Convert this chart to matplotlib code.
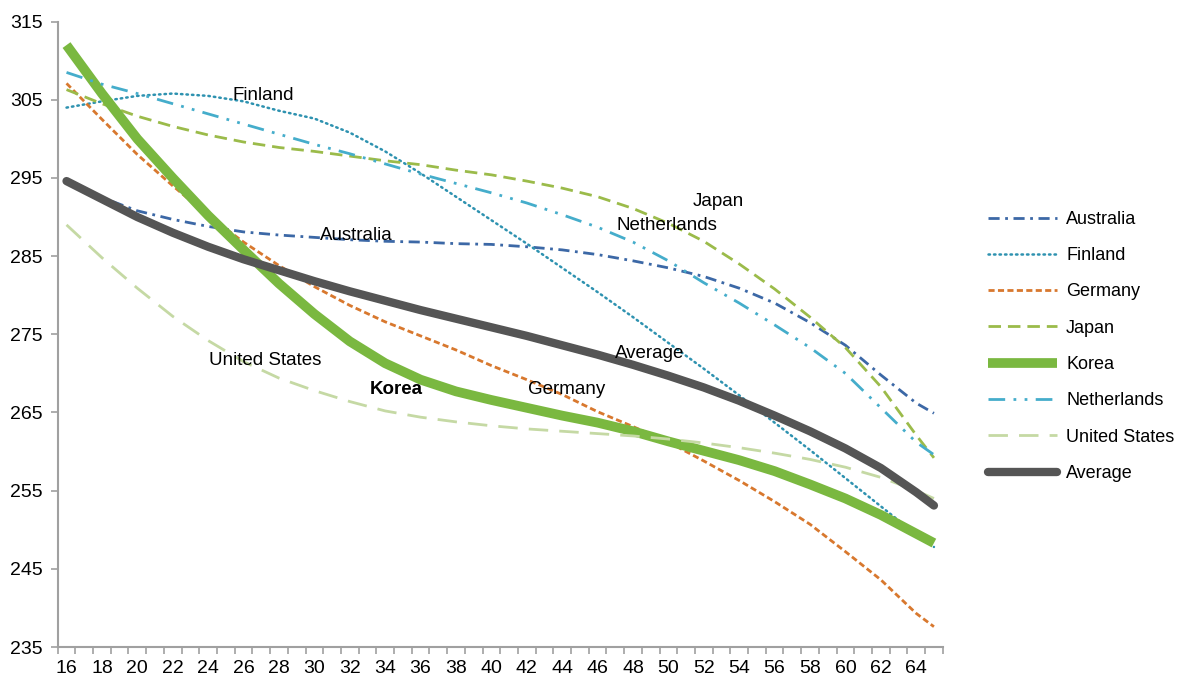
import matplotlib
matplotlib.use("Agg")
import matplotlib.pyplot as plt
from matplotlib.ticker import FixedLocator

plt.rcParams['font.family'] = ['Liberation Sans', 'DejaVu Sans']

ages = [16, 18, 20, 22, 24, 26, 28, 30, 32, 34, 36, 38, 40, 42, 44, 46, 48, 50,
        52, 54, 56, 58, 60, 62, 64, 65]

australia = [294.4, 292.5, 290.8, 289.7, 288.8, 288.1, 287.7, 287.4, 287.1, 286.9,
             286.8, 286.6, 286.5, 286.2, 285.8, 285.2, 284.4, 283.5, 282.4, 280.9,
             279.0, 276.5, 273.6, 269.8, 266.2, 264.9]
finland = [304.0, 304.8, 305.5, 305.8, 305.5, 304.8, 303.6, 302.6, 300.8, 298.4,
           295.6, 292.6, 289.6, 286.6, 283.5, 280.4, 277.2, 273.9, 270.6, 267.2,
           263.7, 260.2, 256.6, 253.0, 249.4, 247.8]
germany = [307.1, 302.5, 298.0, 294.0, 290.2, 286.8, 283.8, 281.1, 278.7, 276.6,
           274.8, 273.0, 271.0, 269.2, 267.3, 265.1, 263.2, 261.2, 258.8, 256.3,
           253.6, 250.7, 247.2, 243.6, 239.3, 237.6]
japan = [306.3, 304.5, 302.9, 301.6, 300.5, 299.6, 298.9, 298.4, 297.8, 297.2,
         296.7, 296.0, 295.4, 294.6, 293.7, 292.6, 291.1, 289.2, 286.9, 284.0,
         280.8, 277.2, 273.3, 268.3, 262.1, 259.2]
korea = [312.0, 305.8, 300.0, 295.0, 290.2, 285.8, 281.5, 277.6, 274.1, 271.3,
         269.2, 267.7, 266.6, 265.6, 264.6, 263.7, 262.6, 261.3, 260.1, 258.9,
         257.5, 255.8, 254.0, 251.9, 249.5, 248.3]
netherlands = [308.5, 307.0, 305.8, 304.5, 303.2, 301.9, 300.6, 299.3, 298.1, 296.8,
               295.5, 294.3, 293.1, 291.8, 290.3, 288.7, 286.8, 284.4, 281.6, 279.0,
               276.2, 273.3, 270.0, 265.6, 261.2, 259.6]
united_states = [289.0, 284.8, 280.9, 277.3, 274.2, 271.5, 269.4, 267.8, 266.4, 265.2,
                 264.4, 263.8, 263.3, 262.9, 262.6, 262.3, 262.0, 261.6, 261.1, 260.5,
                 259.8, 259.0, 258.0, 256.7, 255.0, 254.0]
average = [294.6, 292.3, 290.0, 288.0, 286.2, 284.6, 283.2, 281.8, 280.5, 279.3,
           278.1, 277.0, 275.9, 274.8, 273.6, 272.4, 271.1, 269.7, 268.2, 266.5,
           264.6, 262.6, 260.4, 257.9, 254.8, 253.1]

fig = plt.figure(figsize=(11.77, 6.82), dpi=100)
ax = fig.add_axes([0.049, 0.0513, 0.752, 0.917])

ax.plot(ages, australia, color='#3C68A6', lw=2, ls=(0, (4, 2, 1, 2)), label='Australia')
ax.plot(ages, finland, color='#2E92B0', lw=1.8, ls=(0, (0.6, 1.6)),
        dash_capstyle='round', label='Finland')
ax.plot(ages, germany, color='#D8782E', lw=2, ls=(0, (2.2, 1.2)), label='Germany')
ax.plot(ages, japan, color='#9BBB4A', lw=2, ls=(0, (4.5, 2.5)), label='Japan')
ax.plot(ages, korea, color='#7AB840', lw=7, solid_capstyle='butt', label='Korea')
ax.plot(ages, netherlands, color='#45ADCB', lw=2, ls=(0, (6, 3, 1, 3, 1, 3)),
        label='Netherlands')
ax.plot(ages, united_states, color='#C5D9A4', lw=2, ls=(0, (7, 4)), label='United States')
ax.plot(ages, average, color='#555555', lw=6, solid_capstyle='round', label='Average')

# direct labels
fs = 13.5
ax.text(27.1, 305.5, 'Finland', fontsize=fs, ha='center', va='center')
ax.text(32.4, 287.6, 'Australia', fontsize=fs, ha='center', va='center')
ax.text(27.25, 271.6, 'United States', fontsize=fs, ha='center', va='center')
ax.text(34.65, 268.0, 'Korea', fontsize=fs, ha='center', va='center', fontweight='bold')
ax.text(44.26, 268.0, 'Germany', fontsize=fs, ha='center', va='center')
ax.text(48.95, 272.6, 'Average', fontsize=fs, ha='center', va='center')
ax.text(49.9, 288.9, 'Netherlands', fontsize=fs, ha='center', va='center')
ax.text(52.8, 292.0, 'Japan', fontsize=fs, ha='center', va='center')

ax.set_xlim(15.5, 65.5)
ax.set_ylim(235, 315)
ax.yaxis.set_major_locator(FixedLocator(list(range(235, 316, 10))))
ax.xaxis.set_major_locator(FixedLocator(list(range(16, 65, 2))))
ax.xaxis.set_minor_locator(FixedLocator([x + 0.5 for x in range(15, 66)]))

for s in ['top', 'right']:
    ax.spines[s].set_visible(False)
for s in ['left', 'bottom']:
    ax.spines[s].set_color('#A0A0A0')
    ax.spines[s].set_linewidth(1.5)

ax.tick_params(axis='y', which='major', length=5, width=1.2, color='#A0A0A0',
               labelsize=14, pad=6)
ax.tick_params(axis='x', which='major', length=0, labelsize=14, pad=9)
ax.tick_params(axis='x', which='minor', length=5, width=1.2, color='#A0A0A0')

fig.legend(loc='center left', bbox_to_anchor=(0.826, 0.492), frameon=False,
           fontsize=13, handlelength=3.8, labelspacing=1.07, handletextpad=0.5)

fig.savefig('out.png', dpi=100)
